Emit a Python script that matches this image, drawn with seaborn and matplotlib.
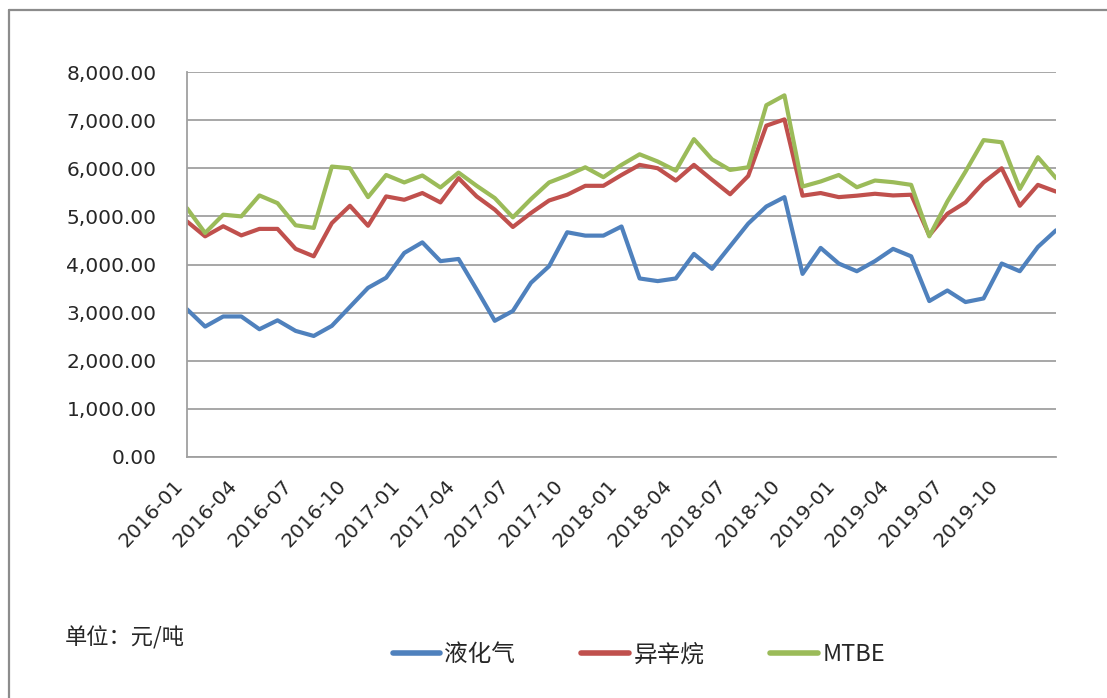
import numpy as np
import pandas as pd
import seaborn as sns
import matplotlib.pyplot as plt
import matplotlib.transforms as mtransforms
from matplotlib.lines import Line2D

# monthly prices, 2016-01 .. 2020-01
months = [f"{y}-{m:02d}" for y in range(2016, 2021) for m in range(1, 13)][:49]

lpg = [3070, 2710, 2920, 2920, 2655, 2840, 2620, 2515, 2725, 3120, 3515, 3725,
       4240, 4460, 4070, 4115, 3480, 2830, 3035, 3620, 3965, 4670, 4600, 4600,
       4790, 3710, 3655, 3710, 4220, 3910, 4380, 4850, 5205, 5400, 3805, 4345,
       4020, 3860, 4070, 4325, 4170, 3240, 3460, 3220, 3295, 4020, 3860, 4365,
       4710]
isooctane = [4895, 4585, 4795, 4605, 4740, 4740, 4325, 4170, 4860, 5220, 4805, 5415,
             5345, 5485, 5290, 5795, 5415, 5140, 4780, 5070, 5330, 5450, 5635, 5635,
             5860, 6070, 6000, 5745, 6070, 5760, 5460, 5840, 6885, 7015, 5430, 5485,
             5400, 5430, 5470, 5435, 5450, 4605, 5055, 5290, 5705, 6000, 5220, 5655,
             5515]
mtbe = [5170, 4655, 5035, 5000, 5435, 5275, 4815, 4760, 6035, 6000, 5400, 5860,
        5705, 5850, 5600, 5910, 5635, 5380, 4980, 5360, 5705, 5850, 6020, 5815,
        6070, 6290, 6140, 5950, 6605, 6185, 5965, 6020, 7310, 7515, 5620, 5725,
        5860, 5605, 5745, 5710, 5655, 4585, 5310, 5930, 6585, 6540, 5570, 6230,
        5795]

series_names = ["液化气", "异辛烷", "MTBE"]
colors = ["#4F81BD", "#C0504D", "#9BBB59"]

df = pd.DataFrame({"idx": np.arange(len(months)), "液化气": lpg,
                   "异辛烷": isooctane, "MTBE": mtbe})
long = df.melt(id_vars="idx", var_name="品种", value_name="价格")

sns.set_style("white")
plt.rcParams["font.family"] = ["DejaVu Sans", "Noto Sans CJK SC"]

fig = plt.figure(figsize=(11.07, 6.98), dpi=100)
ax = fig.add_axes([187 / 1107, 1 - 457 / 698, (1056 - 187) / 1107, (457 - 72) / 698])

sns.lineplot(data=long, x="idx", y="价格", hue="品种", hue_order=series_names,
             palette=colors, linewidth=3, legend=False, ax=ax)

ax.set_xlim(0, len(months) - 1)
ax.set_ylim(0, 8000)
ax.set_yticks(np.arange(0, 8001, 1000))
ax.set_yticklabels([f"{v:,.2f}" for v in range(0, 8001, 1000)], fontsize=14.5)
tick_pos = list(range(0, 46, 3))
ax.set_xticks(tick_pos)
ax.set_xticklabels([months[i] for i in tick_pos], rotation=47, ha="right",
                   fontsize=14.5)
shift = mtransforms.ScaledTranslation(6 / 100, 0, fig.dpi_scale_trans)
for lbl in ax.get_xticklabels():
    lbl.set_transform(lbl.get_transform() + shift)
ax.tick_params(axis="y", length=0, pad=22)
ax.tick_params(axis="x", length=0, pad=14)
ax.set_xlabel("")
ax.set_ylabel("")
ax.yaxis.grid(True, color="#A0A0A0", linewidth=1.3)
ax.xaxis.grid(False)
for side in ["top", "right"]:
    ax.spines[side].set_visible(False)
for side in ["left", "bottom"]:
    ax.spines[side].set_color("#A0A0A0")
    ax.spines[side].set_linewidth(1.3)

handles = [Line2D([], [], color=c, linewidth=4) for c in colors]
fig.legend(handles, series_names, loc="center", bbox_to_anchor=(0.577, 0.062),
           ncol=3, frameon=False, handlelength=2.0, handletextpad=0.2,
           columnspacing=2.8, prop={"family": ["Noto Sans CJK SC"], "size": 17})

fig.text(65 / 1107, 1 - 638 / 698, "单位：元/吨", ha="left", va="center",
         fontsize=16, family=["Noto Sans CJK SC"])

# outer chart border (top and left edges visible)
fig.add_artist(Line2D([9 / 1107, 9 / 1107], [0, 1 - 10 / 698],
                      transform=fig.transFigure, color="#8C8C8C", linewidth=1.6))
fig.add_artist(Line2D([9 / 1107, 1], [1 - 10 / 698, 1 - 10 / 698],
                      transform=fig.transFigure, color="#8C8C8C", linewidth=1.6))

fig.savefig("out.png", dpi=100)
